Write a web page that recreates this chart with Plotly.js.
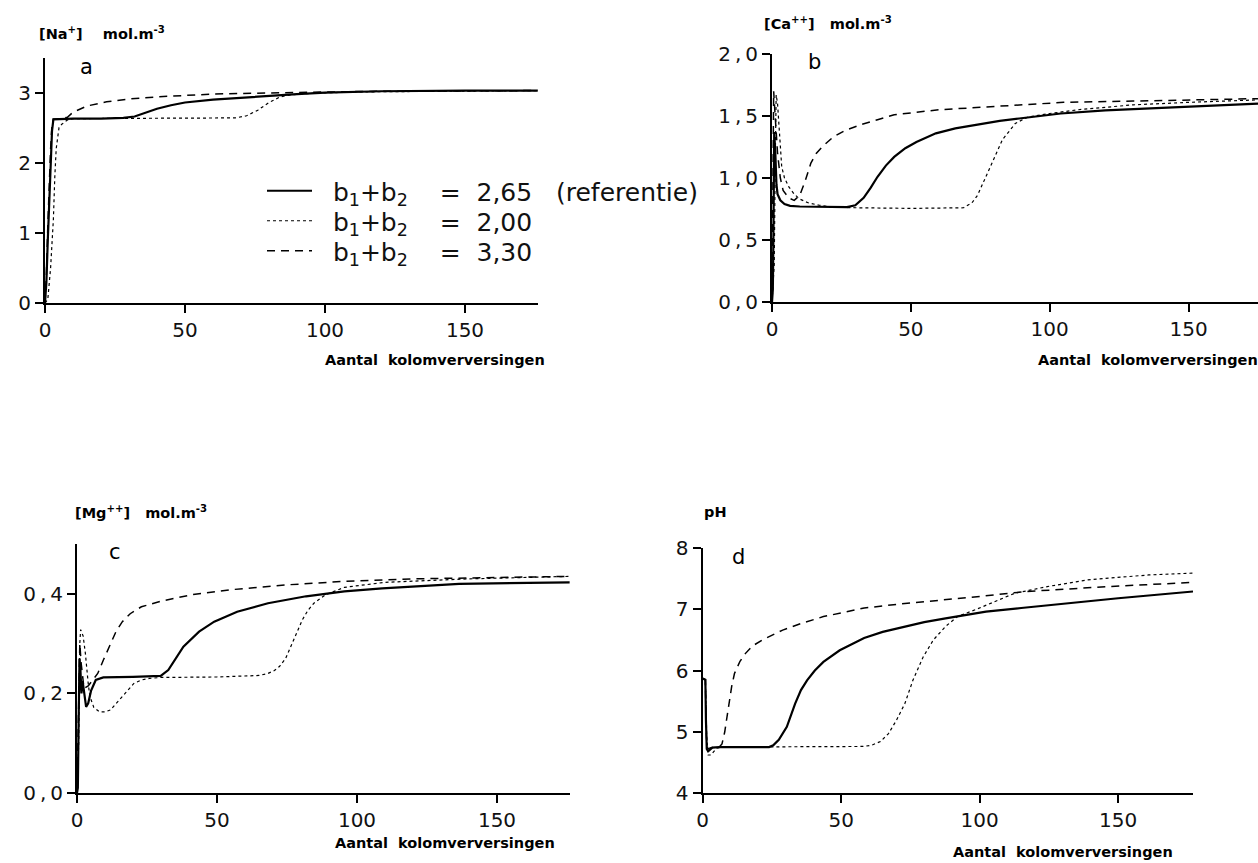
<!DOCTYPE html>
<html><head><meta charset="utf-8">
<script src="https://cdn.plot.ly/plotly-3.0.1.min.js"></script>
<style>html,body{margin:0;padding:0;background:#fff;} #chart{width:1258px;height:863px;}</style>
</head><body><div id="chart"></div>
<script>
// ---- Series names (legend) ----
const NB = "\u00a0";
const seriesNames = [
  NB+NB+"b<sub>1</sub>+b<sub>2</sub>"+NB+NB+NB+NB+"="+NB+NB+"2,65"+NB+NB+NB+"(referentie)",
  NB+NB+"b<sub>1</sub>+b<sub>2</sub>"+NB+NB+NB+NB+"="+NB+NB+"2,00",
  NB+NB+"b<sub>1</sub>+b<sub>2</sub>"+NB+NB+NB+NB+"="+NB+NB+"3,30"
];

// ---- Panel a: [Na+] ----
const naRefX = [0,0.5,1,1.5,2,2.5,3,10,20,28,32,36,40,45,50,60,70,80,90,100,120,150,176];
const naRefY = [0,0.3,0.9,1.5,2.05,2.45,2.62,2.63,2.63,2.64,2.66,2.71,2.77,2.82,2.86,2.9,2.93,2.96,2.98,3.0,3.02,3.03,3.03];
const naLowX = [0,1,2,3,3.5,4,5,6,7,8,10,20,40,60,68,72,76,80,84,88,95,110,140,176];
const naLowY = [0,0.05,0.5,1.2,1.8,2.2,2.5,2.55,2.58,2.61,2.63,2.63,2.63,2.63,2.64,2.67,2.75,2.86,2.94,2.97,2.99,3.01,3.02,3.03];
const naHighX = [0,0.5,1,1.5,2,2.5,3,6,8,10,15,22,30,40,60,85,120,176];
const naHighY = [0,0.4,1.1,1.7,2.2,2.55,2.62,2.63,2.65,2.72,2.81,2.87,2.91,2.94,2.98,3.0,3.02,3.03];

// ---- Panel b: [Ca++] ----
const caRefX = [0,0.3,0.5,0.8,1.2,1.6,2,3,4.5,6.5,10,20,27,30,33,35.5,38,41,44,48,52,59,66,74,82,89,96,104,120,134,155,175];
const caRefY = [0,0.1,0.5,1.37,1.2,0.95,0.87,0.82,0.79,0.775,0.77,0.765,0.765,0.78,0.84,0.92,1.01,1.1,1.17,1.24,1.29,1.36,1.4,1.43,1.46,1.48,1.5,1.52,1.545,1.56,1.58,1.6];
const caLowX = [0,0.8,1.2,1.5,2,2.5,3,3.5,4.5,6,8,10,13,17,22,30,50,65,69,72,74,76,78.5,81,83,85.5,87.6,92,100,110,130,150,175];
const caLowY = [0,0.3,1.2,1.67,1.6,1.4,1.2,1.09,1.0,0.93,0.87,0.83,0.8,0.78,0.765,0.76,0.755,0.755,0.76,0.8,0.86,0.96,1.09,1.22,1.31,1.38,1.44,1.49,1.52,1.55,1.59,1.61,1.63];
const caHighX = [0,0.3,0.6,1,2,3,4,6,8,10,12,14,16,18,22,26,32,38,44,52,60,75,90,105,130,150,175];
const caHighY = [0,1.0,1.7,1.55,1.2,1.0,0.9,0.84,0.82,0.86,0.98,1.12,1.2,1.25,1.33,1.38,1.43,1.47,1.51,1.53,1.55,1.57,1.59,1.61,1.62,1.63,1.64];

// ---- Panel c: [Mg++] ----
const mgRefX = [0,0.3,0.6,0.9,1.2,1.6,2,2.5,3.25,4,5,6.7,9.4,20,29.9,32.6,35,38,43.6,49,57.2,68.2,81.8,95.5,109,136.5,176];
const mgRefY = [0,0.01,0.15,0.27,0.25,0.2,0.225,0.2,0.173,0.18,0.205,0.227,0.232,0.233,0.235,0.247,0.268,0.294,0.324,0.344,0.364,0.381,0.395,0.405,0.411,0.42,0.423];
const mgLowX = [0,0.6,1,1.3,2.2,3,4,4.6,6,8,10,12,14,16.2,18,20.3,23,25.8,30,50,65,68.2,70.5,72.3,74.5,76.4,78.5,80.5,82.5,84.6,88.7,95.5,110,140,176];
const mgLowY = [0,0.1,0.3,0.328,0.315,0.28,0.22,0.194,0.172,0.163,0.163,0.167,0.18,0.194,0.207,0.22,0.227,0.23,0.232,0.233,0.236,0.24,0.246,0.254,0.27,0.294,0.322,0.348,0.367,0.381,0.398,0.413,0.423,0.43,0.435];
const mgHighX = [0,0.5,1,1.5,2.5,4,5.5,7.4,9.5,12.1,14,16.2,19,23,29.9,40.8,54.5,75,95.5,120,150,176];
const mgHighY = [0,0.2,0.3,0.26,0.21,0.215,0.225,0.24,0.268,0.3,0.325,0.344,0.36,0.374,0.385,0.398,0.408,0.418,0.425,0.43,0.433,0.435];

// ---- Panel d: pH ----
const phRefX = [0,1,1.2,1.5,2,2.5,3.5,6,24,25.5,27.5,30.4,33.4,35.5,37.7,40.5,43.6,49.5,58.3,65,73,80,87.7,102.3,115,131.7,150,177];
const phRefY = [5.87,5.85,5.2,4.72,4.68,4.7,4.74,4.75,4.75,4.78,4.87,5.08,5.46,5.68,5.84,6.0,6.14,6.33,6.53,6.63,6.72,6.79,6.85,6.96,7.02,7.1,7.18,7.29];
const phLowX = [0,1,1.5,2,3,4,5,7,30,58,61,64.2,67.1,70,73,75.9,79.6,83.3,87.7,92,99.4,106.8,112.6,124.4,139,161,177];
const phLowY = [5.87,5.85,4.9,4.62,4.62,4.68,4.73,4.75,4.75,4.76,4.78,4.84,4.97,5.19,5.46,5.84,6.22,6.5,6.72,6.88,7.01,7.15,7.26,7.37,7.48,7.56,7.59];
const phHighX = [0,1,1.4,1.8,3,6,7,8,9,10.5,11.5,13.5,15.5,18,21.6,25,28.9,35,43.6,50,58.3,70,87.7,100,117,130,146.4,160,177];
const phHighY = [5.87,5.85,4.9,4.72,4.74,4.75,4.8,5.0,5.3,5.74,5.95,6.15,6.28,6.4,6.5,6.58,6.66,6.76,6.88,6.94,7.02,7.08,7.15,7.21,7.29,7.33,7.37,7.4,7.44];

// ---- Tick labels / tick positions ----
const naTickVals = [0,1,2,3];
const naTickText = ["0","1","2","3"];
const caTickVals = [0,0.5,1,1.5,2];
const caTickText = ["0\u2009,\u20090","0\u2009,\u20095","1\u2009,\u20090","1\u2009,\u20095","2\u2009,\u20090"];
const caMinorVals = [0.1,0.2,0.3,0.4,0.6,0.7,0.8,0.9,1.1,1.2,1.3,1.4,1.6,1.7,1.8,1.9];
const mgTickVals = [0,0.2,0.4];
const mgTickText = ["0\u2009,\u20090","0\u2009,\u20092","0\u2009,\u20094"];
const mgMinorVals = [0.1,0.3,0.5];
const phTickVals = [4,5,6,7,8];
const phTickText = ["4","5","6","7","8"];
const xTickVals = [0,50,100,150];
const xTickText = ["0","50","100","150"];
const xMinorVals = [10,20,30,40,60,70,80,90,110,120,130,140,160,170];

// ---- Text ----
const yLabels = ["[Na<sup>+</sup>]\u00a0\u00a0\u00a0\u00a0mol.m<sup>-3</sup>","[Ca<sup>++</sup>]\u00a0\u00a0\u00a0mol.m<sup>-3</sup>","[Mg<sup>++</sup>]\u00a0\u00a0\u00a0mol.m<sup>-3</sup>","pH"];
const panelLetters = ["a","b","c","d"];
const xTitle = "Aantal\u00a0\u00a0kolomverversingen";

// ---- Build ----
const W = 1258, H = 863;
const px = v => v / W;
const py = v => 1 - v / H;

const styles = [
  {color:'#000', width:2.2, dash:'solid'},
  {color:'#000', width:1.2, dash:'3px,3px'},
  {color:'#000', width:1.5, dash:'8px,6px'}
];
const legendIds = ['legend','legend2','legend3'];

const panels = [
  {xa:'x',  ya:'y',  data:[[naRefX,naRefY],[naLowX,naLowY],[naHighX,naHighY]]},
  {xa:'x2', ya:'y2', data:[[caRefX,caRefY],[caLowX,caLowY],[caHighX,caHighY]]},
  {xa:'x3', ya:'y3', data:[[mgRefX,mgRefY],[mgLowX,mgLowY],[mgHighX,mgHighY]]},
  {xa:'x4', ya:'y4', data:[[phRefX,phRefY],[phLowX,phLowY],[phHighX,phHighY]]}
];

const traces = [];
panels.forEach((p, pi) => {
  p.data.forEach((d, si) => {
    traces.push({
      type:'scatter', mode:'lines', x:d[0], y:d[1], xaxis:p.xa, yaxis:p.ya,
      name: seriesNames[si], legend: legendIds[si], showlegend: pi === 0,
      line: Object.assign({shape:'linear'}, styles[si]), hoverinfo:'skip'
    });
  });
});

const tickFont = {family:'DejaVu Sans', size:20, color:'#111'};
function xAxis(d0, d1, r1, anchor) {
  return {domain:[px(d0), px(d1)], range:[0, r1], anchor:anchor,
    showline:true, linecolor:'#000', linewidth:2, mirror:false,
    tickmode:'array', tickvals:xTickVals, ticktext:xTickText,
    ticks:'outside', ticklen:8, tickwidth:2, tickcolor:'#000',
    showgrid:false, zeroline:false, tickfont:tickFont, fixedrange:true};
}
function xMinorAxis(d0, d1, r1, anchor, over) {
  return {domain:[px(d0), px(d1)], range:[0, r1], anchor:anchor, overlaying:over, side:'bottom',
    showline:false, tickmode:'array', tickvals:xMinorVals, showticklabels:false,
    ticks:'outside', ticklen:5, tickwidth:1.5, tickcolor:'#000',
    showgrid:false, zeroline:false, fixedrange:true};
}
function yAxis(top, bottom, r, vals, text, anchor) {
  return {domain:[py(bottom), py(top)], range:r, anchor:anchor,
    showline:true, linecolor:'#000', linewidth:2,
    tickmode:'array', tickvals:vals, ticktext:text,
    ticks:'outside', ticklen:8, tickwidth:2, tickcolor:'#000',
    showgrid:false, zeroline:false, tickfont:tickFont, fixedrange:true};
}
function yMinorAxis(top, bottom, r, vals, anchor, over) {
  return {domain:[py(bottom), py(top)], range:r, anchor:anchor, overlaying:over, side:'left',
    showline:false, tickmode:'array', tickvals:vals, showticklabels:false,
    ticks:'outside', ticklen:5, tickwidth:1.5, tickcolor:'#000',
    showgrid:false, zeroline:false, fixedrange:true};
}

const labelFont = {family:'DejaVu Sans', size:14.5, color:'#000', weight:'bold'};
const letterFont = {family:'DejaVu Sans', size:21, color:'#000'};
function ann(text, x, y, font, xanchor) {
  return {text:text, xref:'paper', yref:'paper', x:px(x), y:py(y), xanchor:xanchor||'left', yanchor:'middle', showarrow:false, font:font};
}

const annotations = [
  ann(yLabels[0], 37, 33, labelFont),
  ann(yLabels[1], 762, 23, labelFont),
  ann(yLabels[2], 73, 512, labelFont),
  ann(yLabels[3], 702, 512, labelFont),
  ann(panelLetters[0], 86, 67, letterFont, 'center'),
  ann(panelLetters[1], 814, 62, letterFont, 'center'),
  ann(panelLetters[2], 115, 552, letterFont, 'center'),
  ann(panelLetters[3], 738, 557, letterFont, 'center'),
  ann(xTitle, 323, 360, labelFont),
  ann(xTitle, 1036, 360, labelFont),
  ann(xTitle, 333, 843, labelFont),
  ann(xTitle, 951, 852, labelFont)
];

function legendCfg(rowY) {
  return {x:px(262), y:py(rowY), xanchor:'left', yanchor:'middle', bgcolor:'rgba(0,0,0,0)',
    font:{family:'DejaVu Sans', size:25, color:'#111'}, itemwidth:45};
}

const layout = {
  width:W, height:H, autosize:false,
  margin:{l:0, r:0, t:0, b:0, pad:0},
  paper_bgcolor:'#fff', plot_bgcolor:'#fff',
  separators:',.',
  xaxis:  xAxis(45, 537.8, 176, 'y'),
  yaxis:  yAxis(57.6, 303, [0,3.5], naTickVals, naTickText, 'x'),
  xaxis2: xAxis(772, 1258, 175, 'y2'),
  yaxis2: yAxis(54, 302, [0,2], caTickVals, caTickText, 'x2'),
  xaxis3: xAxis(77, 569.8, 176, 'y3'),
  yaxis3: yAxis(544, 793, [0,0.5], mgTickVals, mgTickText, 'x3'),
  xaxis4: xAxis(702.6, 1193, 177, 'y4'),
  yaxis4: yAxis(548, 793, [4,8], phTickVals, phTickText, 'x4'),
  // overlay axes carrying the short (minor) ticks
  xaxis5: xMinorAxis(45, 537.8, 176, 'y', 'x'),
  xaxis6: xMinorAxis(772, 1258, 175, 'y2', 'x2'),
  xaxis7: xMinorAxis(77, 569.8, 176, 'y3', 'x3'),
  xaxis8: xMinorAxis(702.6, 1193, 177, 'y4', 'x4'),
  yaxis5: yMinorAxis(54, 302, [0,2], caMinorVals, 'x2', 'y2'),
  yaxis6: yMinorAxis(544, 793, [0,0.5], mgMinorVals, 'x3', 'y3'),
  showlegend:true,
  legend:  legendCfg(191),
  legend2: legendCfg(221),
  legend3: legendCfg(251),
  annotations:annotations
};

Plotly.newPlot('chart', traces, layout, {displayModeBar:false, staticPlot:true});
</script></body></html>
